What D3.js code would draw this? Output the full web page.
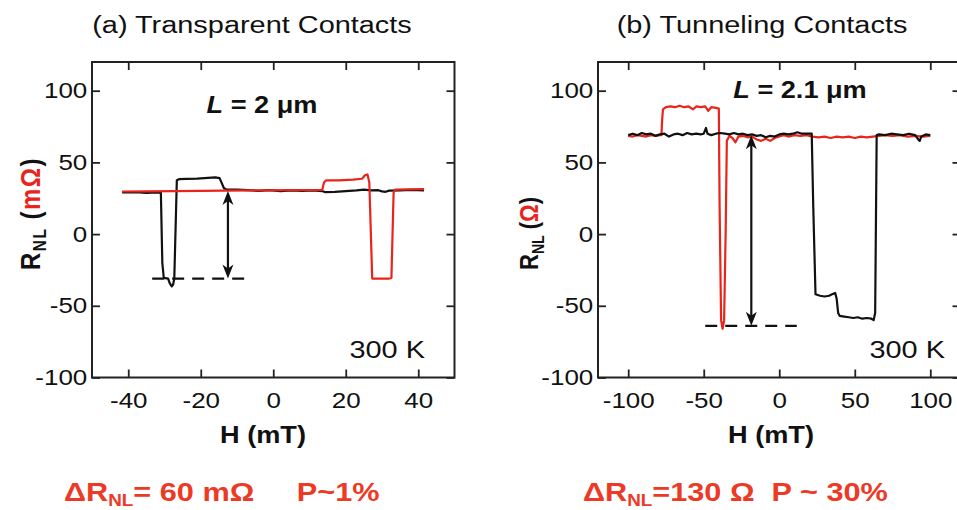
<!DOCTYPE html>
<html>
<head>
<meta charset="utf-8">
<script src="https://cdn.jsdelivr.net/npm/d3@7"></script>
<style>
  html, body { margin: 0; padding: 0; background: #fff; }
  svg { display: block; font-family: "Liberation Sans", Arial, sans-serif; }
</style>
</head>
<body>
<svg id="chart" width="957" height="510"></svg>
<script>
// Non-local spin-valve signal R_NL versus in-plane field H, 300 K.
// Each trace is a list of [H (mT), R_NL] readings.

// (a) transparent contacts, R_NL in mΩ
const sweepDownA = [
  [-41.7, 29], [-38, 29.2], [-35, 28.8], [-32, 29], [-31, 28.8], [-30.6, -20],
  [-30.2, -30.5], [-29, -31], [-28.6, -34], [-28, -36.5], [-27.6, -35], [-27.3, -31],
  [-26.6, 37.5], [-26, 38.3], [-24, 38.5], [-21, 38.7], [-18, 39.2], [-16, 39.5],
  [-14.8, 39], [-13.6, 32], [-13, 31.2], [-10, 31], [-7, 30.6], [-4, 30.2], [-1, 30.7],
  [2, 30], [5, 30.5], [8, 30.2], [11, 30.5], [13.5, 30], [14.2, 29.3], [17, 29.5],
  [20, 30], [23, 30.5], [25, 31], [27, 30.5], [29, 30.6], [30, 29.8], [31, 29.5],
  [32, 30.3], [35, 30.5], [38, 30.8], [41.6, 30.5]
];
const sweepUpA = [
  [-41.7, 29.7], [-35, 29.8], [-28, 30], [-20, 30.2], [-14, 30.3], [-5, 30.5],
  [5, 30.6], [10, 30.7], [13.5, 30.8], [14, 36], [14.6, 37.5], [18, 37.5], [22, 38],
  [24.5, 38.6], [25.3, 41], [26, 41.6], [26.5, 36], [27.3, -31], [29, -31], [32, -31],
  [32.6, -30.5], [33.2, 29], [33.6, 31], [37, 31.2], [41.6, 31.3]
];

// (b) tunneling contacts, R_NL in Ω
const sweepDownB = [
  [-100, 69], [-97, 70], [-94, 69], [-91, 70.5], [-88, 69.5], [-85, 70], [-82, 68.5],
  [-79, 69.5], [-76, 70], [-73, 68], [-70, 69.5], [-67, 70], [-64, 69], [-61, 70.5],
  [-58, 69.5], [-55, 70], [-52, 69.5], [-50, 70], [-48.5, 74], [-47.5, 70], [-45, 69],
  [-42, 70], [-39, 70.5], [-36, 70], [-33, 69.5], [-30, 70.5], [-27, 69.5], [-24, 70],
  [-21, 69], [-18, 69.5], [-15, 68.5], [-12, 69], [-9, 67.5], [-6, 68.5], [-3, 68],
  [0, 69.5], [3, 70], [6, 69.5], [9, 70], [12, 71], [15, 70], [18, 70], [21.5, 70],
  [22.5, 20], [24, -42], [27, -43], [30, -43.5], [33, -43], [35, -42], [37, -41],
  [38, -45], [39, -55], [40, -57], [43, -57.5], [46, -58], [49, -58.5], [52, -58],
  [55, -59], [58, -58.5], [61, -59], [62.5, -60], [63.5, -55], [64.5, 69], [66, 69.5],
  [70, 69], [74, 70], [78, 69.5], [82, 69], [86, 70], [90, 69], [92, 66], [93, 65],
  [94, 68], [97, 69.5], [100, 69]
];
const sweepUpB = [
  [-100, 68.5], [-97, 68], [-94, 69], [-91, 68.5], [-88, 68], [-85, 69], [-82, 68.5],
  [-79, 69], [-78, 69], [-77.5, 80], [-77, 87], [-75, 88.5], [-72, 89], [-69, 88.5],
  [-66, 89.5], [-63, 88.5], [-60, 89], [-57, 87], [-55, 89], [-52, 88.5], [-49, 89],
  [-47, 86], [-45, 88.5], [-42, 88], [-40, 87.5], [-39.5, 20], [-38.5, -60],
  [-37.5, -66], [-36.5, -60], [-35.5, 0], [-34.7, 65], [-33, 68.5], [-31, 67],
  [-29, 64], [-27, 68], [-24, 68.5], [-21, 67.5], [-18, 68], [-15, 66], [-12, 65],
  [-9, 66.5], [-6, 65], [-3, 67], [0, 68], [3, 69], [6, 68], [10, 69], [14, 68.5],
  [18, 69], [22, 68], [26, 67.5], [30, 68], [34, 67], [38, 68], [42, 67.5], [46, 68],
  [50, 67], [54, 68], [58, 67.5], [62, 68], [66, 68.5], [70, 69], [75, 68.5], [80, 69],
  [85, 68], [90, 68.5], [95, 68], [100, 68.5]
];

// Ticks
const ticksHA = [-40, -20, 0, 20, 40];
const ticksHB = [-100, -50, 0, 50, 100];
const ticksR = [-100, -50, 0, 50, 100];

// Spin-signal markers: [H of arrow, parallel level, antiparallel level], dashed span [H0, H1]
const deltaA = [-12.5, 30, -31];
const dashA = [-33.4, -7.6];
const deltaB = [-18.5, 69, -64];
const dashB = [-49, 11.6];

const svg = d3.select("#chart");
const SX = 1.18;          // horizontal glyph stretch used throughout
const RED = "#e8241b";
const TEXT_RED = "#ec3a26";
const INK = "#111";
const plainNum = d => String(d);   // ASCII hyphen for negatives

const yScale = d3.scaleLinear().domain([-100, 120]).range([377.5, 62]);

function label(g, x, y, anchor, size, weight) {
  return g.append("text")
    .attr("transform", `translate(${x},${y}) scale(${SX},1)`)
    .attr("text-anchor", anchor)
    .attr("font-size", size)
    .attr("font-weight", weight || "normal")
    .attr("fill", INK);
}

const panels = [
  {
    x: d3.scaleLinear().domain([-50, 50]).range([92, 454.5]),
    ticks: ticksHA, black: sweepDownA, red: sweepUpA, redOnTop: true,
    delta: deltaA, dash: dashA,
    title: "(a) Transparent Contacts", titleX: 252,
    lText: " = 2 μm", lX: 262, lY: 113,
    kX: 425, unit: "mΩ", yLabX: 40, yLabSize: 24, yLabSpacing: 1.5, hX: 263,
    note: "= 60 mΩ     P~1%", noteX: 64
  },
  {
    x: d3.scaleLinear().domain([-120, 120]).range([598, 960.5]),
    ticks: ticksHB, black: sweepDownB, red: sweepUpB, redOnTop: false,
    delta: deltaB, dash: dashB,
    title: "(b) Tunneling Contacts", titleX: 762,
    lText: " = 2.1 μm", lX: 800, lY: 98,
    kX: 945, unit: "Ω", yLabX: 538, yLabSize: 22, yLabSpacing: 0, hX: 771,
    note: "=130 Ω  P ~ 30%", noteX: 583
  }
];

panels.forEach(p => {
  const g = svg.append("g");
  const x = p.x;
  const [x0, x1] = x.range();
  const [yb, yt] = yScale.range();

  // axes with inward ticks on all four sides
  const bottom = g.append("g").attr("transform", `translate(0,${yb})`)
    .call(d3.axisBottom(x).tickValues(p.ticks).tickFormat(plainNum)
      .tickSizeInner(-8).tickSizeOuter(0).tickPadding(15));
  const left = g.append("g").attr("transform", `translate(${x0},0)`)
    .call(d3.axisLeft(yScale).tickValues(ticksR).tickFormat(plainNum)
      .tickSizeInner(-8).tickSizeOuter(0).tickPadding(4));
  g.append("g").attr("transform", `translate(0,${yt})`)
    .call(d3.axisTop(x).tickValues(p.ticks).tickSizeInner(-8).tickSizeOuter(0).tickFormat(""));
  g.append("g").attr("transform", `translate(${x1},0)`)
    .call(d3.axisRight(yScale).tickValues(ticksR).tickSizeInner(-8).tickSizeOuter(0).tickFormat(""));
  g.selectAll(".domain").remove();
  g.selectAll(".tick line").attr("stroke", "#222").attr("stroke-width", 1.8);
  [bottom, left].forEach(a => a.selectAll("text")
    .attr("font-size", 22).attr("font-family", "Liberation Sans, Arial, sans-serif")
    .attr("fill", INK).attr("transform", `scale(${SX},1)`));

  g.append("rect").attr("x", x0).attr("y", yt).attr("width", x1 - x0).attr("height", yb - yt)
    .attr("fill", "none").attr("stroke", "#222").attr("stroke-width", 2);

  // traces
  const line = d3.line().x(d => x(d[0])).y(d => yScale(d[1]));
  const traces = p.redOnTop
    ? [[p.black, INK], [p.red, RED]]
    : [[p.red, RED], [p.black, INK]];
  traces.forEach(([data, color]) => {
    g.append("path").datum(data).attr("d", line)
      .attr("fill", "none").attr("stroke", color).attr("stroke-width", 2.2)
      .attr("stroke-linejoin", "round");
  });

  // antiparallel level (dashed) and spin-signal double arrow
  const [ha, rP, rAP] = p.delta;
  g.append("line")
    .attr("x1", x(p.dash[0])).attr("x2", x(p.dash[1]))
    .attr("y1", yScale(rAP)).attr("y2", yScale(rAP))
    .attr("stroke", INK).attr("stroke-width", 2.2).attr("stroke-dasharray", "12,8");
  const ax = x(ha), ya = yScale(rP), yb2 = yScale(rAP);
  g.append("line").attr("x1", ax).attr("x2", ax).attr("y1", ya + 6).attr("y2", yb2 - 6)
    .attr("stroke", INK).attr("stroke-width", 2.2);
  g.append("path")
    .attr("d", `M${ax},${ya} L${ax - 5.5},${ya + 14} L${ax},${ya + 10} L${ax + 5.5},${ya + 14} Z`)
    .attr("fill", INK);
  g.append("path")
    .attr("d", `M${ax},${yb2} L${ax - 5.5},${yb2 - 14} L${ax},${yb2 - 10} L${ax + 5.5},${yb2 - 14} Z`)
    .attr("fill", INK);

  // titles and annotations
  label(g, p.titleX, 33, "middle", 24.5).text(p.title);
  const lt = label(g, p.lX, p.lY, "middle", 23, "bold");
  lt.append("tspan").attr("font-style", "italic").text("L");
  lt.append("tspan").text(p.lText);
  label(g, p.kX, 358, "end", 24.5).text("300 K");
  label(g, p.hX, 443, "middle", 23, "bold").text("H (mT)");

  // rotated R_NL axis title
  const yl = g.append("text")
    .attr("transform", `translate(${p.yLabX},270) scale(${SX},1) rotate(-90)`)
    .attr("font-size", p.yLabSize).attr("font-weight", "bold").attr("fill", INK)
    .attr("letter-spacing", p.yLabSpacing)
    .style("white-space", "pre");
  yl.append("tspan").text("R");
  yl.append("tspan").attr("font-size", p.yLabSize * 0.64).attr("dy", 5).text("NL");
  yl.append("tspan").attr("dy", -5).text(" (");
  yl.append("tspan").attr("fill", RED).text(p.unit);
  yl.append("tspan").text(")");

  // ΔR_NL and polarisation summary
  const nt = label(g, p.noteX, 501, "start", 26, "bold").attr("fill", TEXT_RED)
    .style("white-space", "pre");
  nt.append("tspan").text("ΔR");
  nt.append("tspan").attr("font-size", 16).attr("dy", 5).text("NL");
  nt.append("tspan").attr("dy", -5).text(p.note);
});
</script>
</body>
</html>
